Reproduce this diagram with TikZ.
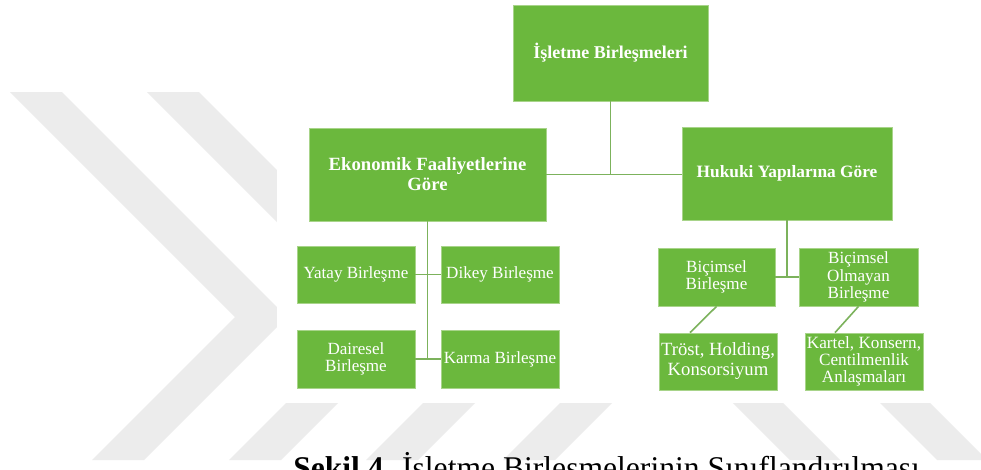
\documentclass[tikz,border=0pt]{standalone}
\usepackage{fontspec}
\setmainfont{Liberation Serif}
\definecolor{boxgreen}{RGB}{107,184,61}
\definecolor{boxedge}{RGB}{168,212,138}
\definecolor{linkgreen}{RGB}{124,178,92}
\definecolor{markgray}{RGB}{236,236,236}
\tikzset{
  box/.style={rectangle, fill=boxgreen, draw=boxedge, line width=0.6pt,
    inner sep=0pt, align=center, text=white},
  headbox/.style={box, font=\bfseries},
  link/.style={draw=linkgreen, line width=1.2pt},
  chevronband/.style={fill=markgray, draw=none}
}
\begin{document}
\begin{tikzpicture}[x=0.75pt, y=-0.75pt]
\clip (0,0) rectangle (981,469);
\fill[white] (0,0) rectangle (981,469);

% background chevrons
\foreach \o in {0,137,274,411}{
  \fill[chevronband] (10+\o,92) -- (235+\o,317) -- (92+\o,460) -- (144+\o,460)
    -- (287+\o,317) -- (62+\o,92) -- cycle;
}
\foreach \o in {0,147}{
  \fill[chevronband] (710+\o,380) -- (790+\o,460) -- (840+\o,460) -- (760+\o,380) -- cycle;
}
% white panel behind the chart
\fill[white] (277,0) rectangle (981,403);

% boxes
\node[headbox, minimum width=146.25pt, minimum height=72pt,
  font=\bfseries\fontsize{13.5}{15}\selectfont] (root) at (610.5,53) {İşletme Birleşmeleri};
\node[headbox, minimum width=177.75pt, minimum height=69.75pt,
  font=\bfseries\fontsize{14}{15}\selectfont] (eko) at (427.5,174.5) {Ekonomik Faaliyetlerine\\Göre};
\node[headbox, minimum width=157.5pt, minimum height=69.75pt,
  font=\bfseries\fontsize{13}{15}\selectfont] (huk) at (787,173.5) {Hukuki Yapılarına Göre};

\node[box, minimum width=88.5pt, minimum height=42.75pt,
  font=\fontsize{12.8}{13}\selectfont] (yatay) at (356,274.5) {Yatay Birleşme};
\node[box, minimum width=88.5pt, minimum height=42.75pt,
  font=\fontsize{12.8}{13}\selectfont] (dikey) at (500,274.5) {Dikey Birleşme};
\node[box, minimum width=88.5pt, minimum height=43.5pt,
  font=\fontsize{12.8}{13}\selectfont] (dair) at (356,359) {Dairesel\\Birleşme};
\node[box, minimum width=88.5pt, minimum height=43.5pt,
  font=\fontsize{12.8}{13}\selectfont] (karma) at (500,359) {Karma Birleşme};

\node[box, minimum width=87.75pt, minimum height=43.5pt,
  font=\fontsize{12.8}{13}\selectfont] (bic) at (716.5,277) {Biçimsel\\Birleşme};
\node[box, minimum width=89.25pt, minimum height=43.5pt,
  font=\fontsize{12.8}{13}\selectfont] (bico) at (858.5,277) {Biçimsel\\Olmayan\\Birleşme};
\node[box, minimum width=88.5pt, minimum height=42.75pt,
  font=\fontsize{14}{15}\selectfont] (trost) at (718,361.5) {Tröst, Holding,\\Konsorsiyum};
\node[box, minimum width=88.5pt, minimum height=42.75pt,
  font=\fontsize{12.9}{12.5}\selectfont] (kartel) at (864,361.5) {Kartel, Konsern,\\Centilmenlik\\Anlaşmaları};

% connectors
\draw[link] (root.south) -- (root.south |- eko.east);
\draw[link] (eko.east) -- (eko.east -| huk.west);
\draw[link] (eko.south) -- (eko.south |- dair.east);
\draw[link] (yatay.east) -- (dikey.west);
\draw[link] (dair.east) -- (karma.west);
\draw[link] (huk.south) -- (huk.south |- bic.east);
\draw[link] (bic.east) -- (bico.west);
\draw[link] (bic.south) -- ([xshift=-21pt]trost.north);
\draw[link] (bico.south) -- ([xshift=-21.75pt]kartel.north);

% caption
\node[anchor=base west, inner sep=0pt, font=\fontsize{23.7}{26}\selectfont] (cap)
  at (293,478) {\textbf{Şekil 4.} İşletme Birleşmelerinin Sınıflandırılması};
\end{tikzpicture}
\end{document}
